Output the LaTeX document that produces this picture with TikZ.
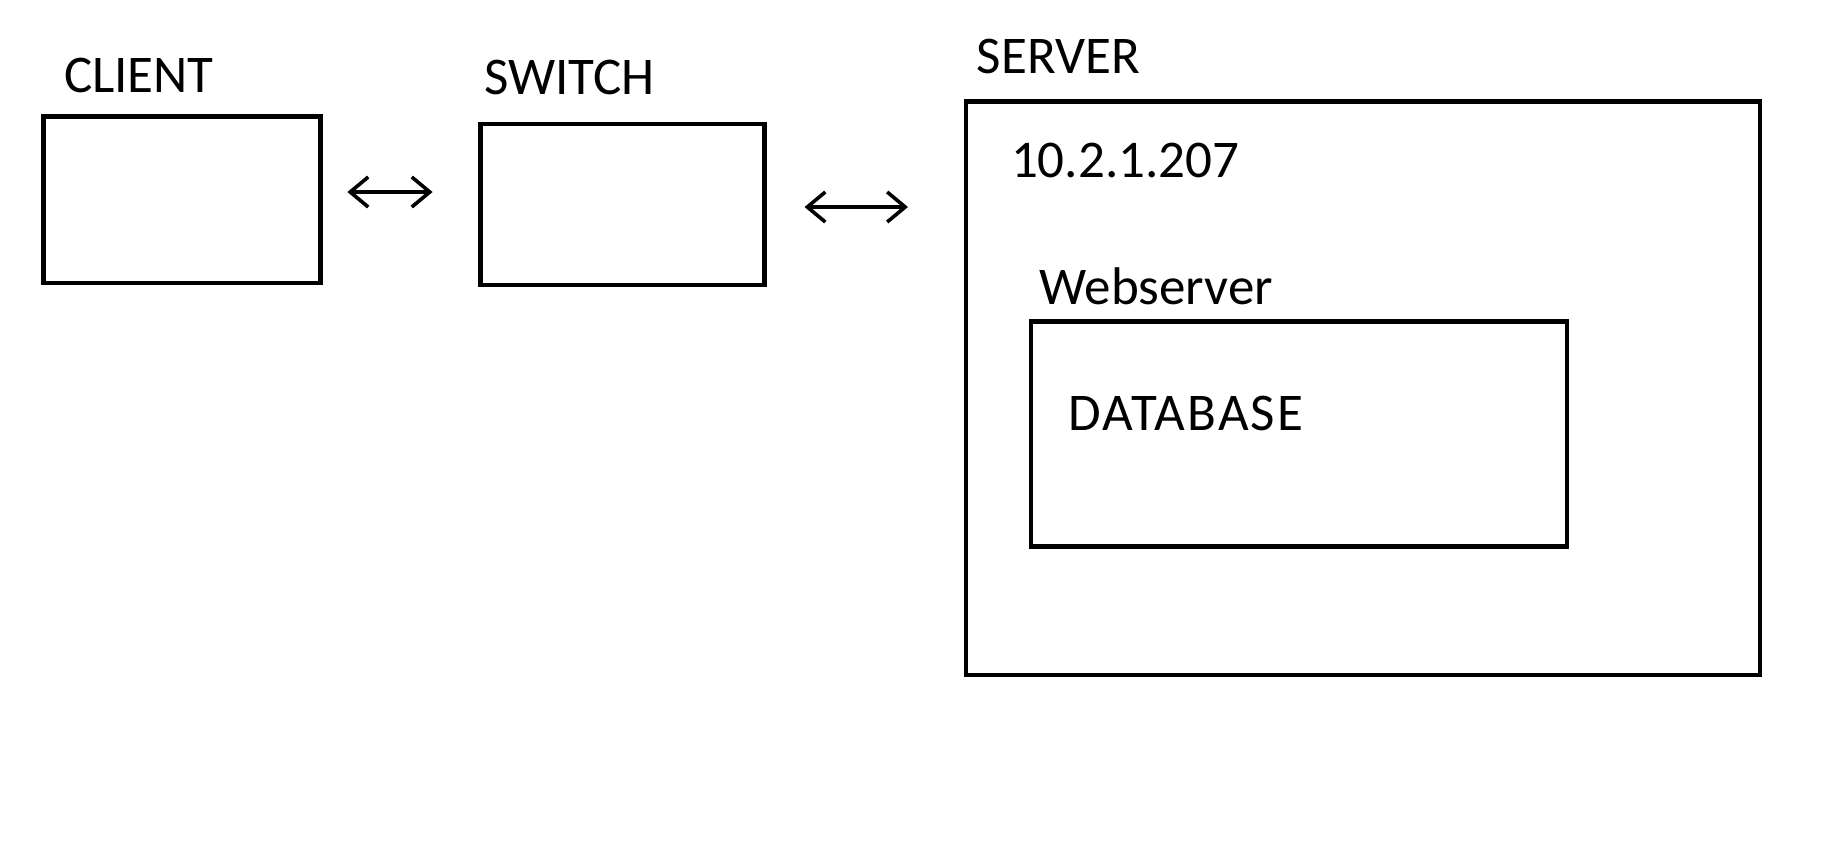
\documentclass[tikz,border=0pt]{standalone}
\usepackage{fontspec}
\setmainfont{Carlito}
\usetikzlibrary{arrows.meta}
\begin{document}
\begin{tikzpicture}[x=0.5pt,y=-0.5pt,
  box/.style={draw,line width=2.2pt,inner sep=0pt},
  lbl/.style={anchor=base west,inner sep=0pt,font=\fontsize{26.5}{31}\selectfont},
  link/.style={line width=1.8pt,line cap=round,{Straight Barb[length=9pt,width=15pt,line width=1.8pt]}-{Straight Barb[length=9pt,width=15pt,line width=1.8pt]}}]
\useasboundingbox (0,0) rectangle (1847,848);
\fill[white] (0,0) rectangle (1847,848);
\draw[box] (43.6,116.6) rectangle (320.4,282.7);
\draw[box] (480.6,123.7) rectangle (764.5,285);
\draw[box] (966,101.3) rectangle (1760,675);
\draw[box] (1030.7,321.6) rectangle (1566.7,546.6);
\coordinate (client) at (320.4,192);
\coordinate (switchw) at (480.6,192);
\coordinate (switche) at (764.5,207);
\coordinate (serverw) at (966,207);
\node[lbl] (lclient) at (63.6,92) {CLIENT};
\node[lbl] (lswitch) at (484,94) {SWITCH};
\node[lbl] (lserver) at (976.5,73) {SERVER};
\node[lbl] (lip) at (1010.7,177) {10.2.1.207};
\node[lbl] (lweb) at (1039,304) {Webserver};
\node[lbl] (ldb) at (1068,430) {\addfontfeature{LetterSpace=4}DATABASE};
\draw[link,shorten <=13.5pt,shorten >=24pt] (client) -- (switchw);
\draw[link,shorten <=20pt,shorten >=29pt] (switche) -- (serverw);
\end{tikzpicture}
\end{document}
